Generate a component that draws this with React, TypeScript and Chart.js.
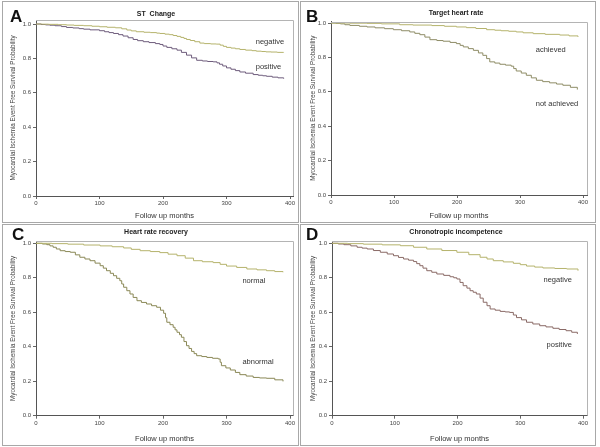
import React, { useEffect, useRef } from "react";
import { Chart, registerables } from "chart.js";
Chart.register(...registerables);

// ---- shared axis ticks ----
const xTickValues = [0, 100, 200, 300, 400];
const yTickValues = [0, 0.2, 0.4, 0.6, 0.8, 1.0];

// ---- Panel A: ST Change ----
const stNegT = [0, 10, 20, 35, 48, 60, 75, 88, 100, 112, 125, 135, 143, 150, 158, 170, 180, 190, 195, 203, 210, 216, 222, 228, 233, 237, 243, 250, 258, 265, 275, 284, 290, 295, 300, 307, 314, 321, 330, 340, 347, 355, 362, 370, 380, 390];
const stNegS = [1.0, 0.999, 0.998, 0.996, 0.994, 0.992, 0.99, 0.987, 0.984, 0.981, 0.978, 0.972, 0.965, 0.96, 0.955, 0.952, 0.95, 0.947, 0.945, 0.941, 0.938, 0.933, 0.928, 0.922, 0.916, 0.91, 0.904, 0.897, 0.889, 0.886, 0.884, 0.883, 0.877, 0.87, 0.864, 0.86, 0.856, 0.852, 0.848, 0.845, 0.842, 0.84, 0.838, 0.837, 0.835, 0.834];
const stPosT = [0, 8, 15, 22, 30, 40, 48, 58, 68, 75, 85, 100, 108, 115, 122, 130, 137, 145, 153, 160, 169, 178, 188, 195, 200, 206, 214, 222, 229, 237, 245, 253, 262, 270, 279, 285, 289, 294, 300, 307, 314, 321, 330, 342, 350, 357, 363, 372, 381, 390];
const stPosS = [1.0, 0.997, 0.995, 0.993, 0.99, 0.985, 0.98, 0.977, 0.973, 0.97, 0.966, 0.961, 0.955, 0.95, 0.945, 0.938, 0.93, 0.92, 0.91, 0.903, 0.897, 0.892, 0.886, 0.881, 0.872, 0.864, 0.856, 0.848, 0.835, 0.819, 0.803, 0.789, 0.785, 0.782, 0.78, 0.774, 0.766, 0.756, 0.745, 0.737, 0.729, 0.721, 0.714, 0.706, 0.702, 0.699, 0.696, 0.691, 0.687, 0.682];

// ---- Panel B: Target heart rate ----
const thrAchT = [0, 30, 57, 80, 109, 130, 160, 180, 199, 215, 230, 247, 260, 270, 282, 294, 305, 321, 340, 363, 378, 392];
const thrAchS = [1.0, 0.999, 0.998, 0.995, 0.99, 0.988, 0.985, 0.981, 0.977, 0.973, 0.968, 0.961, 0.958, 0.955, 0.952, 0.948, 0.943, 0.938, 0.934, 0.93, 0.925, 0.919];
const thrNotT = [0, 8, 15, 22, 30, 45, 57, 70, 85, 99, 112, 125, 133, 141, 149, 157, 168, 178, 189, 199, 205, 210, 218, 226, 234, 241, 247, 252, 260, 268, 277, 286, 290, 294, 302, 310, 318, 326, 336, 347, 358, 368, 380, 391];
const thrNotS = [1.0, 0.998, 0.995, 0.99, 0.986, 0.981, 0.977, 0.972, 0.967, 0.961, 0.955, 0.948, 0.94, 0.932, 0.918, 0.903, 0.898, 0.894, 0.887, 0.88, 0.87, 0.861, 0.851, 0.841, 0.826, 0.812, 0.793, 0.774, 0.767, 0.76, 0.755, 0.749, 0.735, 0.721, 0.709, 0.696, 0.681, 0.667, 0.659, 0.652, 0.645, 0.638, 0.626, 0.613];

// ---- Panel C: Heart rate recovery ----
const hrrNormT = [0, 25, 50, 75, 101, 120, 138, 150, 164, 180, 195, 208, 222, 235, 248, 262, 279, 290, 300, 316, 332, 348, 363, 376, 389];
const hrrNormS = [1.0, 0.998, 0.995, 0.99, 0.985, 0.98, 0.973, 0.965, 0.957, 0.952, 0.946, 0.937, 0.928, 0.914, 0.899, 0.893, 0.888, 0.878, 0.868, 0.86, 0.851, 0.846, 0.841, 0.836, 0.832];
const hrrAbnT = [0, 10, 17, 22, 27, 32, 38, 46, 54, 62, 69, 77, 85, 93, 101, 106, 111, 117, 122, 127, 132, 135, 138, 143, 148, 153, 159, 166, 174, 182, 190, 196, 201, 204, 206, 211, 216, 219, 222, 226, 229, 233, 237, 241, 245, 249, 253, 261, 269, 278, 287, 290, 292, 299, 306, 314, 321, 331, 342, 352, 363, 376, 389];
const hrrAbnS = [1.0, 0.996, 0.992, 0.985, 0.977, 0.967, 0.957, 0.952, 0.948, 0.933, 0.919, 0.909, 0.899, 0.885, 0.87, 0.856, 0.841, 0.826, 0.812, 0.797, 0.783, 0.764, 0.745, 0.725, 0.706, 0.686, 0.667, 0.657, 0.648, 0.638, 0.629, 0.612, 0.594, 0.568, 0.542, 0.528, 0.513, 0.498, 0.484, 0.47, 0.455, 0.43, 0.406, 0.39, 0.373, 0.36, 0.348, 0.343, 0.338, 0.333, 0.329, 0.31, 0.29, 0.277, 0.265, 0.251, 0.238, 0.23, 0.222, 0.219, 0.217, 0.208, 0.199];

// ---- Panel D: Chronotropic incompetence ----
const ciNegT = [0, 25, 50, 80, 109, 130, 151, 175, 199, 218, 236, 247, 257, 273, 289, 300, 310, 323, 336, 355, 374, 392];
const ciNegS = [1.0, 0.998, 0.995, 0.991, 0.986, 0.977, 0.967, 0.958, 0.948, 0.934, 0.919, 0.909, 0.899, 0.892, 0.884, 0.876, 0.868, 0.862, 0.857, 0.854, 0.851, 0.841];
const ciPosT = [0, 10, 19, 30, 40, 48, 56, 66, 77, 88, 98, 106, 114, 122, 130, 135, 140, 145, 151, 159, 167, 178, 188, 194, 199, 204, 209, 215, 220, 225, 230, 236, 241, 247, 252, 260, 268, 276, 283, 289, 294, 302, 310, 320, 331, 341, 352, 362, 373, 382, 391];
const ciPosS = [1.0, 0.996, 0.992, 0.985, 0.977, 0.972, 0.967, 0.958, 0.948, 0.938, 0.928, 0.918, 0.909, 0.902, 0.894, 0.882, 0.87, 0.856, 0.841, 0.832, 0.822, 0.814, 0.806, 0.8, 0.793, 0.773, 0.754, 0.74, 0.725, 0.716, 0.706, 0.682, 0.658, 0.638, 0.619, 0.612, 0.605, 0.602, 0.599, 0.584, 0.569, 0.556, 0.542, 0.532, 0.522, 0.515, 0.507, 0.5, 0.493, 0.484, 0.474];

const FONT = '"Liberation Sans", Arial, sans-serif';
const GREEN = "#b5b36c";

type Series = { t: number[]; s: number[]; color: string };
type Label = { text: string; x: number; y: number };
type PanelDef = {
  letter: string;
  title: string;
  ox: number; oy: number; w: number; h: number;
  left: number; x400: number; right: number;
  top: number; y1: number; bottom: number;
  titleY: number; letterX: number; letterY: number;
  series: Series[];
  labels: Label[];
};

const panels: PanelDef[] = [
  {
    letter: "A", title: "ST  Change", ox: 0, oy: 0, w: 300, h: 224,
    left: 36, x400: 290, right: 293, top: 20, y1: 24, bottom: 196,
    titleY: 14, letterX: 10, letterY: 17,
    series: [
      { t: stNegT, s: stNegS, color: GREEN },
      { t: stPosT, s: stPosS, color: "#6e5c7c" },
    ],
    labels: [
      { text: "negative", x: 346, y: 0.895 },
      { text: "positive", x: 346, y: 0.75 },
    ],
  },
  {
    letter: "B", title: "Target heart rate", ox: 300, oy: 0, w: 300, h: 224,
    left: 31, x400: 283, right: 287, top: 21.5, y1: 23, bottom: 195,
    titleY: 12.7, letterX: 6, letterY: 17,
    series: [
      { t: thrAchT, s: thrAchS, color: GREEN },
      { t: thrNotT, s: thrNotS, color: "#8e8c66" },
    ],
    labels: [
      { text: "achieved", x: 325, y: 0.845 },
      { text: "not achieved", x: 325, y: 0.532 },
    ],
  },
  {
    letter: "C", title: "Heart rate recovery", ox: 0, oy: 224, w: 300, h: 223,
    left: 36, x400: 290, right: 293, top: 17, y1: 19.3, bottom: 191.7,
    titleY: 8, letterX: 12, letterY: 11,
    series: [
      { t: hrrNormT, s: hrrNormS, color: GREEN },
      { t: hrrAbnT, s: hrrAbnS, color: "#8a8856" },
    ],
    labels: [
      { text: "normal", x: 325, y: 0.78 },
      { text: "abnormal", x: 325, y: 0.31 },
    ],
  },
  {
    letter: "D", title: "Chronotropic incompetence", ox: 300, oy: 224, w: 300, h: 223,
    left: 32, x400: 283, right: 287, top: 17, y1: 19.3, bottom: 191.7,
    titleY: 8.3, letterX: 6, letterY: 11,
    series: [
      { t: ciNegT, s: ciNegS, color: GREEN },
      { t: ciPosT, s: ciPosS, color: "#8a6a66" },
    ],
    labels: [
      { text: "negative", x: 337, y: 0.79 },
      { text: "positive", x: 342, y: 0.41 },
    ],
  },
];

function Panel({ def }: { def: PanelDef }) {
  const ref = useRef<HTMLCanvasElement>(null);
  useEffect(() => {
    const xMax = (400 * (def.right - def.left)) / (def.x400 - def.left);
    const yMax = (def.bottom - def.top) / (def.bottom - def.y1);
    const decor = {
      id: "decor",
      afterDraw(chart: any) {
        const { ctx, chartArea: ca, scales } = chart;
        ctx.save();
        ctx.strokeStyle = "#b4b4b4";
        ctx.lineWidth = 1;
        ctx.beginPath();
        ctx.moveTo(ca.left, Math.round(ca.top) + 0.5);
        ctx.lineTo(Math.round(ca.right) + 0.5, Math.round(ca.top) + 0.5);
        ctx.lineTo(Math.round(ca.right) + 0.5, ca.bottom);
        ctx.stroke();
        ctx.fillStyle = "#333";
        ctx.textBaseline = "middle";
        ctx.textAlign = "left";
        ctx.font = `7.5px ${FONT}`;
        def.labels.forEach((l) => {
          ctx.fillText(l.text, scales.x.getPixelForValue(l.x), scales.y.getPixelForValue(l.y));
        });
        ctx.textAlign = "center";
        ctx.fillStyle = "#222";
        ctx.font = `bold 7px ${FONT}`;
        ctx.fillText(def.title, 156, def.titleY);
        ctx.textAlign = "left";
        ctx.fillStyle = "#111";
        ctx.font = `bold 17px ${FONT}`;
        ctx.fillText(def.letter, def.letterX, def.letterY);
        ctx.restore();
      },
    };
    const chart = new Chart(ref.current as HTMLCanvasElement, {
      type: "line",
      data: {
        datasets: def.series.map((sr) => ({
          data: sr.t.map((t, i) => ({ x: t, y: sr.s[i] })),
          borderColor: sr.color,
          borderWidth: 1,
          pointRadius: 0,
          fill: false,
          stepped: "before" as const,
        })),
      },
      options: {
        animation: false,
        responsive: false,
        devicePixelRatio: 1,
        layout: { padding: { top: def.top, right: def.w - def.right, left: 0, bottom: 0 } },
        plugins: { legend: { display: false }, tooltip: { enabled: false }, title: { display: false } },
        scales: {
          x: {
            type: "linear",
            min: 0,
            max: xMax,
            afterBuildTicks: (s: any) => { s.ticks = xTickValues.map((v) => ({ value: v })); },
            afterFit: (s: any) => { s.height = def.h - def.bottom; },
            ticks: { font: { size: 6, family: FONT }, color: "#444", padding: 1, maxRotation: 0, autoSkip: false, callback: (v: any) => String(v) },
            grid: { display: true, drawOnChartArea: false, drawTicks: true, tickLength: 3, color: "#666" },
            border: { display: true, color: "#555", width: 1 },
            title: { display: true, text: "Follow up months", color: "#333", font: { size: 7.5, family: FONT }, padding: { top: 0, bottom: 3.5 } },
          },
          y: {
            type: "linear",
            min: 0,
            max: yMax,
            afterBuildTicks: (s: any) => { s.ticks = yTickValues.map((v) => ({ value: v })); },
            afterFit: (s: any) => { s.width = def.left; },
            ticks: { font: { size: 6, family: FONT }, color: "#444", padding: 2, autoSkip: false, callback: (v: any) => Number(v).toFixed(1) },
            grid: { display: true, drawOnChartArea: false, drawTicks: true, tickLength: 3, color: "#666" },
            border: { display: true, color: "#555", width: 1 },
            title: { display: true, text: "Myocardial Ischemia Event Free Survival Probability", color: "#444", font: { size: 6.3, family: FONT }, padding: { top: 9, bottom: 0 } },
          },
        },
      },
      plugins: [decor],
    } as any);
    return () => chart.destroy();
  }, []);
  return (
    <canvas
      ref={ref}
      width={def.w}
      height={def.h}
      style={{ position: "absolute", left: def.ox, top: def.oy, width: def.w, height: def.h }}
    />
  );
}

const borders = [
  { l: 2, t: 1, w: 297, h: 222 },
  { l: 300, t: 1, w: 296, h: 222 },
  { l: 2, t: 224, w: 297, h: 222 },
  { l: 300, t: 224, w: 296, h: 222 },
];

export default function App() {
  return (
    <div style={{ position: "fixed", left: 0, top: 0, width: 600, height: 447, background: "#fff", overflow: "hidden" }}>
      {panels.map((p) => (
        <Panel key={p.letter} def={p} />
      ))}
      {borders.map((b, i) => (
        <div
          key={i}
          style={{ position: "absolute", left: b.l, top: b.t, width: b.w, height: b.h, boxSizing: "border-box", border: "1px solid #a8a8a8", pointerEvents: "none" }}
        />
      ))}
    </div>
  );
}
